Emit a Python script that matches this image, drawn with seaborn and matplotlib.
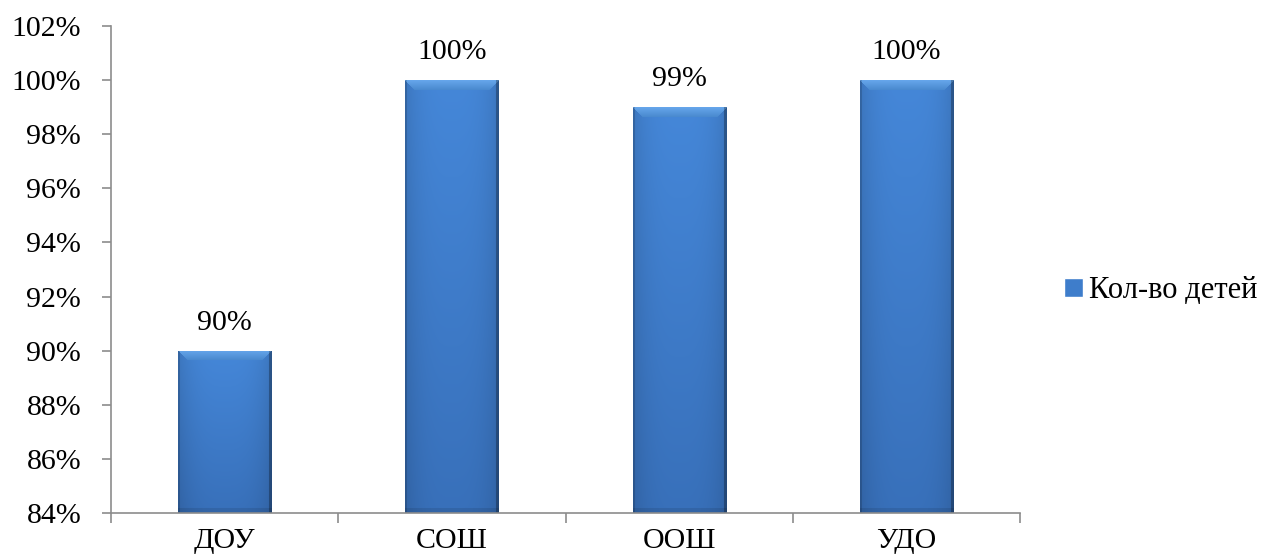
import numpy as np
import pandas as pd
import matplotlib
matplotlib.use("Agg")
import matplotlib.pyplot as plt
import seaborn as sns
from matplotlib.ticker import FuncFormatter, FixedLocator

categories = ["ДОУ", "СОШ", "ООШ", "УДО"]
values = [0.90, 1.00, 0.99, 1.00]
series_name = "Кол-во детей"
y_ticks = [0.84, 0.86, 0.88, 0.90, 0.92, 0.94, 0.96, 0.98, 1.00, 1.02]

sns.set_style("white")
plt.rcParams["font.family"] = ["Liberation Serif", "DejaVu Serif"]
plt.rcParams["text.color"] = "black"
plt.rcParams["xtick.color"] = "black"
plt.rcParams["ytick.color"] = "black"

df = pd.DataFrame({"cat": categories, "val": values})

fig = plt.figure(figsize=(12.67, 5.59), dpi=100)
ax = fig.add_axes([0.0876, 0.0823, 0.7175, 0.8712])

base = "#3E7DCB"
sns.barplot(data=df, x="cat", y="val", ax=ax, color=base, width=0.41,
            saturation=1, label=series_name)

ax.set_ylim(0.84, 1.02)
ax.set_xlim(-0.5, 3.5)
ax.yaxis.set_major_locator(FixedLocator(y_ticks))
ax.yaxis.set_major_formatter(FuncFormatter(lambda v, p: f"{v*100:.0f}%"))

# x ticks: marks at boundaries, labels at centers
ax.set_xticks([-0.5, 0.5, 1.5, 2.5, 3.5])
ax.set_xticklabels([])
ax.set_xticks(range(len(categories)), minor=True)
ax.set_xticklabels(categories, minor=True)
ax.tick_params(axis="x", which="minor", bottom=True, length=0, pad=11, labelsize=21.5, labelcolor="black")
ax.tick_params(axis="x", which="major", bottom=True, length=7, direction="out", color="#8c8c8c", width=1.2)
ax.tick_params(axis="y", left=True, length=6.5, direction="out", color="#8c8c8c", width=1.2,
               labelsize=21.5, pad=15, labelcolor="black")
ax.set_xlabel("")
ax.set_ylabel("")

for s in ["top", "right"]:
    ax.spines[s].set_visible(False)
for s in ["left", "bottom"]:
    ax.spines[s].set_color("#8c8c8c")
    ax.spines[s].set_linewidth(1.2)

# gradient fill on each bar
fig.canvas.draw()
bars = list(ax.patches)
for p in bars:
    x0, y0 = p.get_x(), p.get_y()
    w, h = p.get_width(), p.get_height()
    (px0, py0) = ax.transData.transform((x0, 0.84))
    (px1, py1) = ax.transData.transform((x0 + w, y0 + h))
    hp = max(int(abs(py1 - py0)), 2)
    wp = max(int(abs(px1 - px0)), 2)
    xs = np.linspace(-1, 1, wp)
    prof = 1 - 0.12 * np.abs(xs) ** 3
    ys = np.linspace(0, 1, hp)[:, None]  # 0 top -> 1 bottom
    top = np.array([0.27, 0.53, 0.85])
    bot = np.array([0.22, 0.44, 0.73])
    col = top[None, None, :] * (1 - ys[..., None]) + bot[None, None, :] * ys[..., None]
    img = col * prof[None, :, None]
    bev = 10
    for i in range(min(bev, hp)):
        for j in range(wp):
            d = min(j, wp - 1 - j)
            if d >= i:
                img[i, j] = np.clip(np.array([0.40, 0.65, 0.92]) - 0.012 * i, 0, 1)
    for i in range(min(5, hp)):
        img[hp - 1 - i, :] *= 0.9
    img[:, :2] *= 0.85
    img[:, -3:] *= 0.72
    img = np.clip(img, 0, 1)
    im = ax.imshow(img, extent=[x0, x0 + w, 0.84, y0 + h], aspect="auto",
                   zorder=p.get_zorder() + 0.1, interpolation="bilinear")
    im.set_clip_path(p)

ax.set_ylim(0.84, 1.02)
ax.set_xlim(-0.5, 3.5)

for p, v in zip(bars, values):
    ax.text(p.get_x() + p.get_width() / 2, v + 0.0055, f"{v*100:.0f}%",
            ha="center", va="bottom", fontsize=21.5, color="black")

leg = ax.legend(loc="center left", bbox_to_anchor=(0.840, 0.48), bbox_transform=fig.transFigure,
                frameon=False, fontsize=22, handlelength=0.62, handleheight=0.62,
                handletextpad=0.2, borderaxespad=0, borderpad=0)
for t in leg.get_texts():
    t.set_color("black")

fig.savefig("out.png", dpi=100, facecolor="white")
